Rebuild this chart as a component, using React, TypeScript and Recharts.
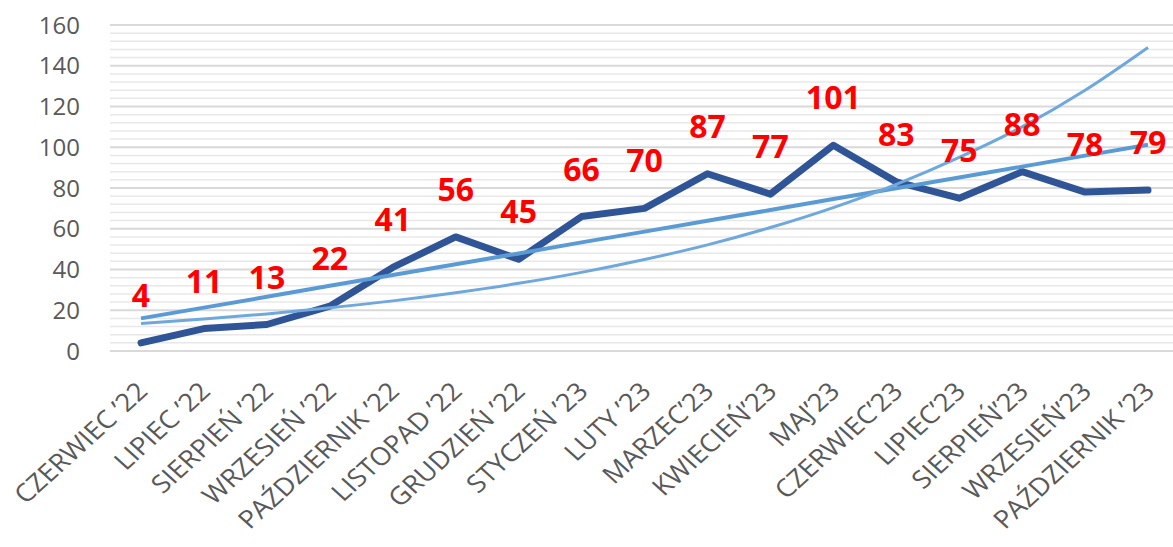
import React from "react";
import { LineChart, Line, XAxis, YAxis, CartesianGrid, LabelList, ReferenceLine } from "recharts";

const categories = [
  "CZERWIEC ’22", "LIPIEC ’22", "SIERPIEŃ ’22", "WRZESIEŃ ’22", "PAŹDZIERNIK ’22",
  "LISTOPAD ’22", "GRUDZIEŃ ’22", "STYCZEŃ ’23", "LUTY ’23", "MARZEC’23",
  "KWIECIEŃ’23", "MAJ’23", "CZERWIEC’23", "LIPIEC’23", "SIERPIEŃ’23",
  "WRZESIEŃ’23", "PAŹDZIERNIK ’23",
];
const values = [4, 11, 13, 22, 41, 56, 45, 66, 70, 87, 77, 101, 83, 75, 88, 78, 79];
const linearTrend = [16.0, 21.3, 26.6, 32.0, 37.3, 42.6, 47.9, 53.3, 58.6, 63.9, 69.2, 74.6, 79.9, 85.2, 90.5, 95.9, 101.2];
const expTrend = [13.5, 15.7, 18.2, 21.2, 24.6, 28.6, 33.2, 38.6, 44.9, 52.1, 60.6, 70.4, 81.8, 95, 110, 128, 149];
const majorTicks = [0, 20, 40, 60, 80, 100, 120, 140, 160];
const minorTicks = [4, 8, 12, 16, 24, 28, 32, 36, 44, 48, 52, 56, 64, 68, 72, 76, 84, 88, 92, 96, 104, 108, 112, 116, 124, 128, 132, 136, 144, 148, 152, 156];

const data = categories.map((c, i) => ({
  name: c,
  value: values[i],
  linear: linearTrend[i],
  exp: expTrend[i],
}));

const FONT = "'Open Sans', 'Noto Sans', sans-serif";

const XTick = (props: any) => {
  const { x, y, payload } = props;
  return (
    <g transform={`translate(${x + 8}, ${y + 28}) scale(1.1, 1) rotate(-45)`}>
      <text x={0} y={0} textAnchor="end" fill="#595959" fontSize={25} fontFamily={FONT}>
        {payload.value}
      </text>
    </g>
  );
};

export default function App() {
  return (
    <div style={{ position: "absolute", left: 0, top: 0, width: 1173, height: 547, overflow: "hidden", background: "#fff" }}>
      <LineChart
        width={1173}
        height={547}
        data={data}
        margin={{ top: 25, right: 0, left: 0, bottom: 6 }}
      >
        {minorTicks.map((t) => (
          <ReferenceLine key={t} y={t} stroke="#E8E8E8" strokeWidth={1.5} ifOverflow="extendDomain" />
        ))}
        <CartesianGrid vertical={false} stroke="#D9D9D9" strokeWidth={2} />
        <XAxis
          dataKey="name"
          interval={0}
          padding={{ left: 31, right: 25 }}
          height={190}
          tick={<XTick />}
          tickLine={false}
          axisLine={{ stroke: "#D9D9D9", strokeWidth: 2 }}
          tickSize={0}
          tickMargin={14}
        />
        <YAxis
          domain={[0, 160]}
          ticks={majorTicks}
          width={110}
          axisLine={false}
          tickLine={false}
          tickSize={0}
          tickMargin={30}
          tick={{ fill: "#595959", fontSize: 24, fontFamily: FONT }}
          interval={0}
        />
        <Line
          dataKey="value"
          stroke="#2F5597"
          strokeWidth={7}
          strokeLinecap="round"
          strokeLinejoin="round"
          dot={false}
          isAnimationActive={false}
        >
          <LabelList
            dataKey="value"
            position="top"
            offset={36}
            fill="#FF0000"
            fontSize={32}
            fontWeight="bold"
            fontFamily={FONT}
          />
        </Line>
        <Line
          dataKey="linear"
          type="linear"
          stroke="#5B9BD5"
          strokeWidth={4}
          dot={false}
          isAnimationActive={false}
        />
        <Line
          dataKey="exp"
          type="monotone"
          stroke="#6FA8DC"
          strokeWidth={3}
          dot={false}
          isAnimationActive={false}
        />
      </LineChart>
    </div>
  );
}
